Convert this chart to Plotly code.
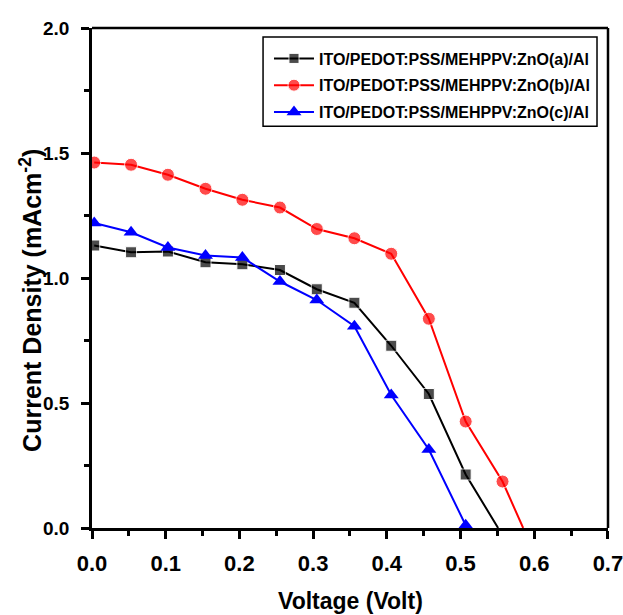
import plotly.graph_objects as go

# Data
voltage = [0.003, 0.053, 0.103, 0.154, 0.204, 0.255, 0.305, 0.356, 0.406, 0.457, 0.507, 0.557]
jsc_a = [1.130, 1.103, 1.106, 1.063, 1.055, 1.032, 0.955, 0.901, 0.729, 0.536, 0.214]
jsc_b = [1.462, 1.453, 1.413, 1.357, 1.313, 1.282, 1.196, 1.159, 1.097, 0.837, 0.426, 0.186]
jsc_c = [1.220, 1.183, 1.122, 1.090, 1.082, 0.986, 0.912, 0.807, 0.532, 0.314, 0.011]
voc_a = 0.551
voc_b = 0.585

names = ["ITO/PEDOT:PSS/MEHPPV:ZnO(a)/Al",
         "ITO/PEDOT:PSS/MEHPPV:ZnO(b)/Al",
         "ITO/PEDOT:PSS/MEHPPV:ZnO(c)/Al"]
x_ticks = [0.0, 0.1, 0.2, 0.3, 0.4, 0.5, 0.6, 0.7]
y_ticks = [0.0, 0.5, 1.0, 1.5, 2.0]
x_title = "Voltage (Volt)"
y_title = "Current Density (mAcm<sup>-2</sup>)"

FONT = "Liberation Sans, Arial, sans-serif"

fig = go.Figure()

xa = voltage[:len(jsc_a)] + [voc_a]
ya = jsc_a + [0.0]
fig.add_trace(go.Scatter(
    x=xa, y=ya, mode="lines+markers", name=names[0], legendgroup="a",
    line=dict(color="#000000", width=2),
    marker=dict(symbol="square", size=[11] * len(jsc_a) + [0], color="#000000"),
))

xb = voltage[:len(jsc_b)] + [voc_b]
yb = jsc_b + [0.0]
fig.add_trace(go.Scatter(
    x=xb, y=yb, mode="lines+markers", name=names[1], legendgroup="b",
    line=dict(color="#FF0000", width=2),
    marker=dict(symbol="circle", size=[13] * len(jsc_b) + [0], color="#FF0000"),
))

fig.add_trace(go.Scatter(
    x=voltage[:len(jsc_c)], y=jsc_c, mode="lines+markers", name=names[2], legendgroup="c",
    line=dict(color="#0000FF", width=2),
    marker=dict(symbol="triangle-up", size=13, color="#0000FF"),
))

axis_common = dict(
    showline=True, linecolor="black", linewidth=2.5, mirror=False,
    ticks="outside", tickwidth=2.5, ticklen=8, tickcolor="black",
    showgrid=False, zeroline=False, automargin=False,
    ticklabeloverflow="allow",
)

fig.update_xaxes(
    range=[0, 0.7001], tickvals=x_ticks, ticktext=[f"{v:.1f}" for v in x_ticks],
    tickfont=dict(family=FONT, size=22, color="black", weight="bold"),
    ticklabelstandoff=6,
    minor=dict(ticks="outside", ticklen=5, tickwidth=2.5, tickcolor="black", dtick=0.05, tick0=0),
    **axis_common,
)
fig.update_yaxes(
    range=[0, 2.0001], tickvals=y_ticks, ticktext=[f"{v:.1f}" for v in y_ticks],
    tickfont=dict(family=FONT, size=19, color="black", weight="bold"),
    ticklabelstandoff=8,
    minor=dict(ticks="outside", ticklen=5, tickwidth=2.5, tickcolor="black", dtick=0.25, tick0=0),
    **axis_common,
)

# top and right frame lines
fig.add_shape(type="line", xref="paper", yref="paper", x0=0, x1=1, y0=1, y1=1,
              line=dict(color="black", width=2.5), layer="above")
fig.add_shape(type="line", xref="paper", yref="paper", x0=1, x1=1, y0=0, y1=1,
              line=dict(color="black", width=2.5), layer="above")
# legend frame
fig.add_shape(type="rect", xref="paper", yref="paper", x0=0.3315, x1=0.9787, y0=0.8033, y1=0.982,
              line=dict(color="black", width=1.5), fillcolor="white", layer="above")

fig.add_annotation(text=x_title, xref="paper", yref="paper", x=0.5, y=-0.146,
                   xanchor="center", yanchor="middle", showarrow=False,
                   font=dict(family=FONT, size=23, color="black", weight="bold"))
fig.add_annotation(text=y_title, xref="paper", yref="paper", x=-0.1184, y=0.456,
                   xanchor="center", yanchor="middle", showarrow=False, textangle=-90,
                   font=dict(family=FONT, size=25, color="black", weight="bold"))

fig.update_layout(
    width=623, height=615,
    margin=dict(l=92, r=15, t=28, b=87),
    paper_bgcolor="white", plot_bgcolor="white",
    showlegend=True,
    legend=dict(
        x=0.343, y=0.973, xanchor="left", yanchor="top",
        bgcolor="rgba(0,0,0,0)", borderwidth=0,
        font=dict(family=FONT, size=16, color="black", weight="bold"),
        traceorder="grouped", tracegroupgap=3,
        itemwidth=40,
    ),
)

fig.write_html(
    "out.html",
    config={"displayModeBar": False},
    post_script="document.body.style.margin='0';document.documentElement.style.overflow='hidden';",
)
